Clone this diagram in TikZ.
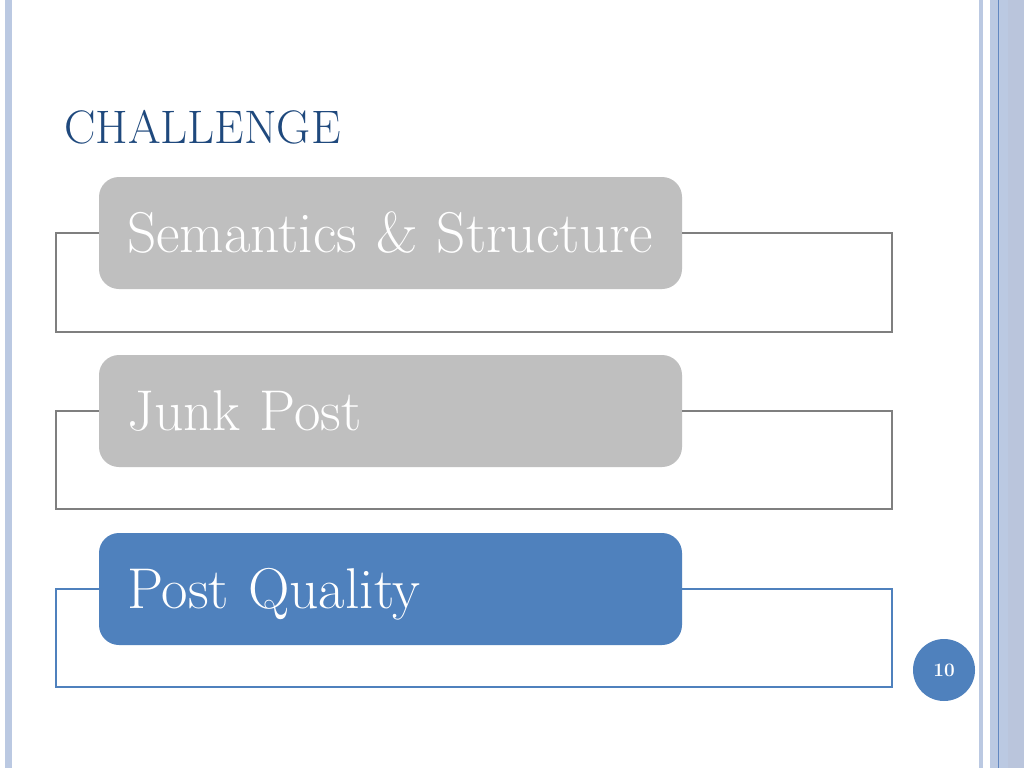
\documentclass[tikz,border=0pt]{standalone}
\usepackage{tikz}
\usetikzlibrary{positioning}
\definecolor{boxgray}{RGB}{191,191,191}
\definecolor{linegray}{RGB}{127,127,127}
\definecolor{accent}{RGB}{79,129,189}
\definecolor{titleblue}{RGB}{31,73,125}
\definecolor{bandblue}{RGB}{187,201,226}
\definecolor{bandgray}{RGB}{186,197,220}
\definecolor{bandline}{RGB}{98,135,192}

\begin{document}
\begin{tikzpicture}[line cap=round,line join=round,x=1pt,y=-1pt,
  stepbox/.style={rectangle,rounded corners=20pt,minimum width=583pt,minimum height=112pt,
    text width=527pt,align=left,inner xsep=28pt,inner ysep=0pt,text height=39pt,text depth=0pt,
    text=white,font=\fontsize{57.5}{60}\selectfont},
  bracket/.style={line width=2pt,line cap=butt,line join=miter}]
\useasboundingbox (0,0) rectangle (1024,768);
\fill[white] (0,0) rectangle (1024,768);
\fill[bandblue] (5,0) rectangle (12,768);
\fill[bandblue] (979,0) rectangle (983,768);
\fill[bandblue] (990,0) rectangle (1008,768);
\fill[bandgray] (1008,0) rectangle (1024,768);
\draw[bandline,line width=1pt,line cap=butt] (998,0) -- (998,768);
\node[anchor=base west,inner sep=0pt,text=titleblue,font=\fontsize{47}{50}\selectfont] (title) at (64,143) {CHALLENGE};
\node[stepbox,fill=boxgray] (sem) at (390.5,233) {Semantics \& Structure};
\node[stepbox,fill=boxgray] (junk) at (390.5,411) {Junk Post};
\node[stepbox,fill=accent] (qual) at (390.5,589) {Post Quality};
\coordinate (semL) at (56,332);
\coordinate (semR) at (892,233);
\coordinate (junkL) at (56,509);
\coordinate (junkR) at (892,411);
\coordinate (qualL) at (56,687);
\coordinate (qualR) at (892,589);
\draw[bracket,linegray] (sem.west) -| (semL) -| (semR) -- (sem.east);
\draw[bracket,linegray] (junk.west) -| (junkL) -| (junkR) -- (junk.east);
\draw[bracket,accent] (qual.west) -| (qualL) -| (qualR) -- (qual.east);
\node[circle,fill=accent,minimum size=62pt,inner sep=0pt,text=white,font=\fontsize{19}{21}\selectfont\bfseries] (page) at (944,670) {10};
\end{tikzpicture}
\end{document}
